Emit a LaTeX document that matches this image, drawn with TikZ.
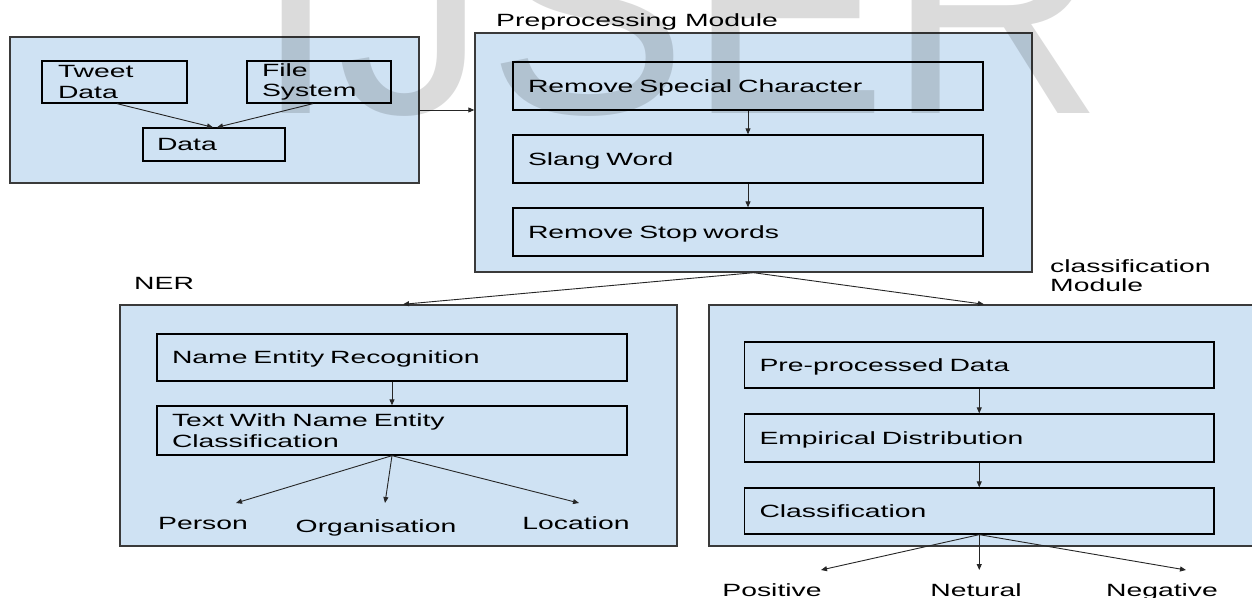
\documentclass[tikz,border=0pt]{standalone}
\usepackage{fontspec}
\setmainfont{Liberation Sans}[FakeStretch=1.6]
\newfontfamily\wmfont{Liberation Sans}
\usetikzlibrary{arrows.meta,calc}
\definecolor{boxblue}{HTML}{CFE2F3}
\definecolor{edgegray}{HTML}{3A3A3A}
\tikzset{
  outerbox/.style={draw=edgegray, line width=1.4pt, fill=boxblue, inner sep=0pt},
  innerbox/.style={draw=black, line width=1.3pt, fill=boxblue, inner xsep=15pt, inner ysep=0pt,
    align=left, text height=12.7pt, text depth=0pt},
  innertwo/.style={draw=black, line width=1.3pt, fill=boxblue, inner xsep=15pt, inner ysep=0pt,
    align=left},
  arr/.style={draw=black!85, line width=0.9pt, -{Triangle[length=6pt,width=5pt]}},
  lab/.style={inner sep=0pt},
}
\begin{document}
\begin{tikzpicture}[x=1pt,y=-1pt,font=\fontsize{17.7}{20.5}\selectfont]
\useasboundingbox[fill=white] (0,0) rectangle (1252,597);

% input module
\node[outerbox, minimum width=409pt, minimum height=146pt] (src) at (214.5,110) {};
\node[innertwo, inner xsep=16pt, text width=113pt, minimum height=42pt] (tweet) at (114.5,82) {Tweet\\Data};
\node[innertwo, text width=114pt, minimum height=42pt] (file) at (319,82) {File\\System};
\node[innerbox, inner xsep=14pt, text width=114pt, minimum height=33pt] (data) at (214,144.5) {Data};

% preprocessing module
\node[lab, anchor=base west] (pretitle) at (496,27) {Preprocessing Module};
\node[outerbox, minimum width=557pt, minimum height=239pt] (pre) at (753.5,152.5) {};
\node[innerbox, text width=440pt, minimum height=48pt] (rsc) at (748,86) {Remove Special Character};
\node[innerbox, text width=440pt, minimum height=48pt] (slang) at (748,159) {Slang Word};
\node[innerbox, text width=440pt, minimum height=48pt] (stop) at (748,232) {Remove Stop words};

% NER module
\node[lab, anchor=base west] (nertitle) at (134,289) {NER};
\node[outerbox, minimum width=557pt, minimum height=241pt] (ner) at (398.5,425.5) {};
\node[innerbox, text width=440pt, minimum height=47pt] (ne) at (392,357.5) {Name Entity Recognition};
\node[innertwo, text width=440pt, minimum height=49pt] (tne) at (392,430.5) {Text With Name Entity\\Classification};
\node[lab, anchor=base] (person) at (203,529) {Person};
\node[lab, anchor=base] (org) at (376,532) {Organisation};
\node[lab, anchor=base] (loc) at (576,529) {Location};
\coordinate (personin) at (236,503);
\coordinate (orgin) at (385,503);
\coordinate (locin) at (579,503);

% classification module
\node[lab, anchor=north west, align=left, font=\fontsize{17.7}{19}\selectfont] (clstitle) at (1050,259) {classification\\Module};
\node[outerbox, minimum width=553pt, minimum height=241pt] (cls) at (985.5,425.5) {};
\node[innerbox, text width=439.5pt, minimum height=46pt] (ppd) at (979.25,365) {Pre-processed Data};
\node[innerbox, text width=439.5pt, minimum height=48pt] (emp) at (979.25,438) {Empirical Distribution};
\node[innerbox, text width=439.5pt, minimum height=46pt] (clf) at (979.25,511) {Classification};
\node[lab, anchor=base] (pos) at (772,596) {Positive};
\node[lab, anchor=base] (neu) at (976,596) {Netural};
\node[lab, anchor=base] (neg) at (1162,596) {Negative};
\coordinate (posin) at (821,570);
\coordinate (neuin) at (979.25,570);
\coordinate (negin) at (1186,570);

% connectors
\draw[arr] ([xshift=2.5pt]tweet.south) -- ([xshift=-1pt]data.north);
\draw[arr] ([xshift=-6pt]file.south) -- ([xshift=3pt]data.north);
\draw[arr] (src.east) -- (src.east -| pre.west);
\draw[arr] (rsc.south) -- (slang.north);
\draw[arr] (slang.south) -- (stop.north);
\draw[arr] (pre.south) -- ([xshift=4.5pt]ner.north);
\draw[arr] (pre.south) -- ([xshift=-1.5pt]cls.north);
\draw[arr] (ne.south) -- (tne.north);
\draw[arr] (tne.south) -- (personin);
\draw[arr] (tne.south) -- (orgin);
\draw[arr] (tne.south) -- (locin);
\draw[arr] (ppd.south) -- (emp.north);
\draw[arr] (emp.south) -- (clf.north);
\draw[arr] (clf.south) -- (posin);
\draw[arr] (clf.south) -- (neuin);
\draw[arr] (clf.south) -- (negin);

% watermark
\node[anchor=base west, inner sep=0pt, text=black, text opacity=0.14,
  font=\wmfont\fontsize{300}{300}\selectfont] (wm) at (254,113) {IJSER};
\end{tikzpicture}
\end{document}
